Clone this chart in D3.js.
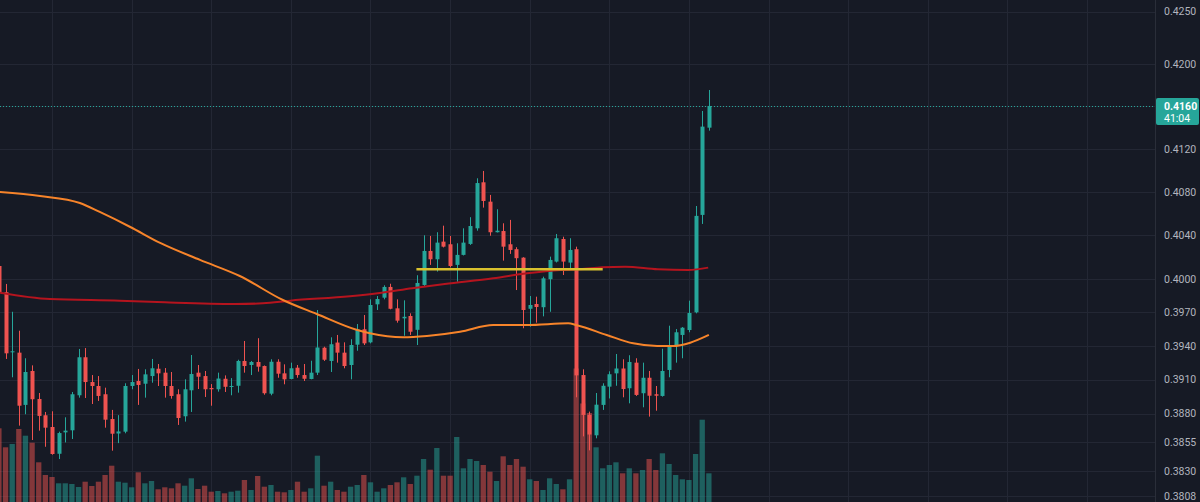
<!DOCTYPE html>
<html><head><meta charset="utf-8">
<script src="https://cdn.jsdelivr.net/npm/d3@7"></script>
<style>html,body{margin:0;padding:0;background:#161a25;overflow:hidden}svg{display:block}</style>
</head><body><svg id="c" width="1200" height="502"></svg>
<script>
// ---- data ----
const open = [.40119,.39881,.39342,.39339,.38876,.39176,.38928,.38785,.38682,.38448,
.38635,.38653,.38961,.39298,.39078,.39043,.3897,.38752,.38625,.38641,
.39043,.39087,.39063,.39131,.39196,.39161,.39043,.3897,.38776,.39005,
.39161,.39131,.39025,.39014,.39107,.39037,.39045,.39265,.39229,.39256,
.3922,.38975,.39258,.39155,.39105,.39205,.3914,.39105,.39161,.39383,
.39265,.39429,.39339,.39229,.3941,.39548,.39431,.39772,.39832,.39929,
.39736,.39646,.39667,.39543,.39947,.40256,.4018,.40341,.40317,.40129,
.4022,.4032,.40463,.40887,.40708,.40427,.40438,.40317,.40272,.40195,
.39732,.39775,.39746,.39999,.40159,.40365,.4015,.40272,.3914,.38788,
.38609,.38876,.39037,.39155,.39198,.39023,.3925,.38979,.39116,.3897,
.38955,.39185,.39401,.39497,.39541,.397,.40586,.41396];
const high = [.40138,.39956,.39705,.39535,.39289,.39226,.38981,.38814,.3882,.38641,
.38767,.3899,.39372,.3938,.3914,.39131,.39028,.38832,.38786,.39067,
.3914,.39194,.39191,.39283,.39238,.39202,.39167,.39014,.39102,.39318,
.39229,.39176,.3906,.39161,.39137,.39113,.39276,.39443,.39265,.39468,
.39225,.3928,.3928,.39235,.3925,.39229,.39238,.39267,.39721,.39392,
.39476,.39497,.39431,.39459,.39595,.39676,.39817,.39847,.39944,.39958,
.39817,.39808,.39691,.40035,.40399,.40393,.40427,.40487,.40393,.40326,
.40463,.40565,.40924,.40992,.4077,.40638,.40509,.4054,.4029,.40199,
.39847,.39841,.40022,.40204,.40411,.40386,.40372,.40295,.39191,.38817,
.38981,.39067,.39173,.39327,.3928,.39316,.39289,.3925,.39176,.39043,
.39374,.3958,.3955,.39568,.39805,.40668,.41553,.41751];
const low = [.39856,.39283,.3912,.38694,.38794,.38568,.3865,.38509,.3844,.38402,
.38547,.38577,.3894,.38937,.38884,.38911,.38676,.38475,.38541,.38627,
.39014,.38876,.3894,.39072,.39043,.3894,.38931,.387,.38729,.38814,
.39016,.38946,.38869,.38993,.3899,.38961,.38984,.39161,.3914,.3917,
.38966,.38961,.39116,.39058,.39102,.39116,.39087,.39102,.3914,.39265,
.39167,.3925,.392,.39102,.39356,.39407,.39422,.39721,.39817,.39727,
.39607,.3949,.39497,.39407,.39938,.40129,.40068,.40288,.40106,.39976,
.40215,.40311,.40441,.40653,.40395,.40425,.40168,.40229,.39901,.39557,
.39571,.39607,.39664,.39705,.40151,.40037,.40083,.38943,.386,.38478,
.38583,.38832,.38933,.39045,.38943,.3889,.38955,.38855,.38773,.38825,
.38949,.3912,.3925,.39289,.39521,.39691,.40503,.41368];
const close = [.39874,.39333,.39351,.38869,.39167,.38926,.38779,.38676,.38446,.38629,
.3865,.3897,.39298,.39078,.39043,.38955,.38746,.38623,.38643,.39043,
.39078,.39052,.39146,.392,.39155,.39043,.38955,.38761,.39014,.39149,
.39125,.39014,.39014,.39109,.39036,.39043,.39265,.3922,.39256,.39214,
.38979,.39258,.39152,.39102,.392,.3914,.39107,.39161,.39385,.39276,
.39414,.39339,.3922,.39407,.39548,.39422,.39766,.3982,.39929,.39732,
.39625,.3966,.39526,.39965,.40256,.4018,.40332,.40295,.40119,.4022,
.40332,.40484,.4088,.40714,.40427,.40441,.40295,.40265,.4019,.39721,
.39766,.39748,.40007,.40174,.40372,.40159,.40265,.39137,.38788,.38616,
.38878,.39045,.39147,.39198,.39016,.39256,.38964,.39116,.38957,.38957,
.39176,.39407,.39521,.39562,.39694,.40577,.41406,.416];
const volume = [73.7,54.7,58,73,66.3,59.3,39.7,27,25,18.7,
18.7,18,15,20.3,16,20.3,27,36.3,20.3,19.3,
14.7,29.7,18.7,21,12.7,14.7,13.7,18.7,16.3,23.7,
13,16.3,10.3,11,8.7,10.3,11.3,22,12,26,
15.3,17,10.3,9.7,12,20.3,10.3,13.7,46.3,16.3,
20.3,12,10.3,15.3,17,27,19.7,10.3,13.7,17,
19.7,24.7,18,26.3,43,32.3,54,26.3,26.3,65,
33.7,43,41,37,30.3,21,45.7,37,43,35.3,
22.7,21,12,23.7,18,12.7,22.7,133.5,98.5,89,
54.7,33.7,37,39.7,28.7,33.7,28.7,32,43,32,
48.7,38,27,22.7,22,48,82.3,28.7];

// moving averages (candle index, price)
const emaIdx = [0,6.2,12.2,15.2,19.8,24.3,30.3,36.3,42.8,47.9,54,55.9,60.9,64.5,69.5,74.5,79.6,85.8,87.1,91.6,95.6,99.2,101.6,104.2,107];
const emaVal = [.40797,.4076,.40696,.40613,.40475,.40329,.40174,.40028,.39811,.39685,.39541,.39512,.39476,.39488,.39526,.39586,.39586,.39601,.39584,.39497,.39422,.39398,.39398,.39428,.39497];
const smaIdx = [0,7.7,18.2,25,35.6,39.8,43.9,52.9,57.1,62.3,67.2,74.5,79.6,84.6,87.6,90.9,94.4,99.3,103.9,106.9];
const smaVal = [.39879,.3982,.39805,.3979,.39775,.39781,.39805,.39845,.39872,.39917,.39956,.40007,.40053,.40083,.40089,.40107,.40113,.40089,.40083,.40104];
const levelPrice = 0.4009, levelFrom = 63, levelTo = 91;

const tickValues = [0.4250,0.4200,0.4160,0.4120,0.4080,0.4040,0.4000,0.3970,0.3940,0.3910,0.3880,0.3855,0.3830,0.3808];
const lastPrice = 0.4160, countdown = "41:04";

// ---- drawing ----
const W = 1200, H = 502, plotR = 1155;
const svg = d3.select("#c");
const UP = "#26a69a", DOWN = "#ef5350";
const x = d3.scaleLinear().domain([8, 20]).range([52, 131.62]);
const y = d3.scaleLog().domain([0.383, 0.425]).range([470.8, 11.5]);
const yv = d3.scaleLinear().domain([0, 134]).range([502, 368]);

svg.append("rect").attr("width", W).attr("height", H).attr("fill", "#161a25");

const clip = svg.append("defs").append("clipPath").attr("id","pc")
  .append("rect").attr("x",0).attr("y",0).attr("width",plotR).attr("height",H);
const plot = svg.append("g").attr("clip-path","url(#pc)");

// grid
const grid = plot.append("g").attr("stroke", "#232734").attr("stroke-width", 1);
const vIdx = d3.range(8, 8 + 12*14, 12);
grid.selectAll("line.v").data(vIdx).join("line")
  .attr("x1", d => Math.round(x(d)) + 0.5).attr("x2", d => Math.round(x(d)) + 0.5)
  .attr("y1", 0).attr("y2", H);
grid.selectAll("line.h").data(tickValues).join("line")
  .attr("x1", 0).attr("x2", plotR)
  .attr("y1", d => Math.round(y(d)) + 0.5).attr("y2", d => Math.round(y(d)) + 0.5);

const idx = d3.range(open.length);
const isUp = i => close[i] >= open[i];

// volume
plot.append("g").selectAll("rect").data(idx).join("rect")
  .attr("x", i => x(i) - 2.65).attr("width", 5.3)
  .attr("y", i => yv(volume[i])).attr("height", i => yv(0) - yv(volume[i]))
  .attr("fill", i => isUp(i) ? UP : DOWN).attr("fill-opacity", 0.5);

// candles
const cg = plot.append("g");
cg.selectAll("line").data(idx).join("line")
  .attr("x1", i => Math.round(x(i)) + 0.5).attr("x2", i => Math.round(x(i)) + 0.5)
  .attr("y1", i => y(high[i])).attr("y2", i => y(low[i]))
  .attr("stroke", i => isUp(i) ? UP : DOWN).attr("stroke-width", 1);
cg.selectAll("rect").data(idx).join("rect")
  .attr("x", i => Math.round(x(i)) + 0.5 - 2).attr("width", 4)
  .attr("y", i => y(Math.max(open[i], close[i])))
  .attr("height", i => Math.max(1, y(Math.min(open[i], close[i])) - y(Math.max(open[i], close[i]))))
  .attr("fill", i => isUp(i) ? UP : DOWN);

// lines
const lineGen = d3.line().x(d => x(d[0])).y(d => y(d[1])).curve(d3.curveMonotoneX);
plot.append("path").datum(smaIdx.map((d,k)=>[d, smaVal[k]]))
  .attr("d", lineGen).attr("fill","none").attr("stroke","#b5141e").attr("stroke-width",2);
plot.append("path").datum(emaIdx.map((d,k)=>[d, emaVal[k]]))
  .attr("d", lineGen).attr("fill","none").attr("stroke","#f7842a").attr("stroke-width",2);
plot.append("line")
  .attr("x1", x(levelFrom) - 0.5).attr("x2", x(levelTo))
  .attr("y1", y(levelPrice)).attr("y2", y(levelPrice))
  .attr("stroke","#d9c22e").attr("stroke-width",2.5);

// last price line
plot.append("line").attr("x1",0).attr("x2",plotR)
  .attr("y1", Math.round(y(lastPrice)) + 0.5).attr("y2", Math.round(y(lastPrice)) + 0.5)
  .attr("stroke", UP).attr("stroke-width",1).attr("stroke-dasharray","1,2");

// price axis
svg.append("line").attr("x1", plotR + 0.5).attr("x2", plotR + 0.5).attr("y1",0).attr("y2",H)
  .attr("stroke","#2a2e39");
const axis = d3.axisRight(y).tickValues(tickValues.filter(t => t !== lastPrice))
  .tickFormat(d3.format(".4f")).tickSize(0).tickPadding(0);
const ag = svg.append("g").attr("transform", `translate(${plotR + 9},0)`).call(axis);
ag.select(".domain").remove();
ag.selectAll("text").attr("fill","#b2b5be").style("font-family","Roboto, 'Noto Sans', sans-serif")
  .style("font-size","10.5px");

// last price label
const ly = y(lastPrice);
svg.append("rect").attr("x", plotR + 1).attr("y", ly - 8).attr("width", W - plotR - 2).attr("height", 27)
  .attr("rx", 2).attr("fill", UP);
svg.append("text").attr("x", plotR + 9).attr("y", ly + 0.5).attr("dy","0.35em")
  .attr("fill","#ffffff").style("font-family","Roboto, 'Noto Sans', sans-serif")
  .style("font-size","10.5px").style("font-weight","bold").text(d3.format(".4f")(lastPrice));
svg.append("text").attr("x", plotR + 9).attr("y", ly + 12.5).attr("dy","0.35em")
  .attr("fill","#ffffff").style("font-family","Roboto, 'Noto Sans', sans-serif")
  .style("font-size","10.5px").text(countdown);
</script></body></html>
